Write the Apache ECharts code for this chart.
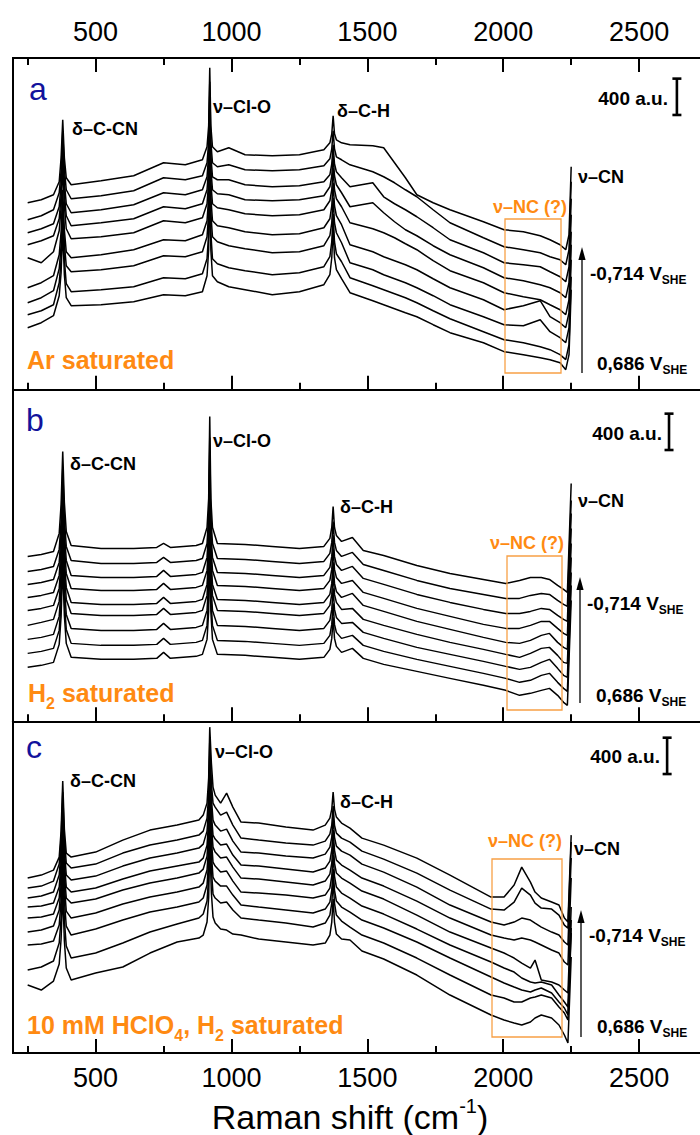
<!DOCTYPE html>
<html>
<head>
<meta charset="utf-8">
<script src="https://cdn.jsdelivr.net/npm/echarts@6/dist/echarts.min.js"></script>
<style>html,body{margin:0;padding:0;background:#fff}#chart{width:700px;height:1135px}</style>
</head>
<body>
<div id="chart"></div>
<script>
// ---------------- DATA (Raman shift in cm^-1, intensity in a.u. incl. stacking offset) ----------------
const majorTicks = [500, 1000, 1500, 2000, 2500];
const minorTicks = [250, 750, 1250, 1750, 2250];
const potentialTop = '-0,714 V';
const potentialBottom = '0,686 V';
const scaleBarValue = 400;

// Panel a : Ar saturated
const shiftA = [250, 300, 345, 366, 373, 379, 385, 392, 410, 520, 640, 750, 830, 893, 910, 916, 920, 924, 930, 948, 990, 1050, 1150, 1250, 1340, 1362, 1369, 1374, 1379, 1386, 1405, 1436, 1520, 1560, 1600, 1640, 1682, 1742, 1804, 1927, 2003, 2074, 2136, 2172, 2209, 2230, 2242, 2250];
const a1 = [2057,2090,2145,2288,2552,2970,2552,2332,2255,2299,2354,2497,2475,2530,2673,2904,3542,2904,2673,2618,2662,2585,2574,2585,2640,2717,2816,3014,2816,2750,2717,2695,2684,2662,2497,2332,2145,2057,1980,1848,1760,1738,1694,1650,1595,1540,1705,2453];
const a2 = [1870,1914,1980,2167,2409,2838,2431,2200,2101,2134,2189,2332,2310,2354,2497,2728,3388,2728,2497,2453,2475,2420,2409,2420,2464,2541,2651,2849,2651,2563,2530,2475,2398,2343,2277,2200,2123,1980,1837,1672,1573,1540,1507,1463,1430,1375,1540,2288];
const a3 = [1727,1771,1826,2013,2266,2717,2288,2046,1947,1980,2035,2167,2145,2200,2343,2585,3256,2585,2343,2310,2310,2255,2233,2244,2288,2365,2486,2695,2486,2398,2332,2233,2277,2123,2046,1980,1903,1782,1650,1507,1397,1375,1353,1298,1243,1188,1353,2101];
const a4 = [1595,1639,1694,1881,2134,2596,2156,1914,1804,1837,1881,2013,1991,2046,2200,2442,3124,2442,2200,2156,2145,2090,2079,2090,2134,2233,2354,2574,2354,2255,2167,2013,2057,1947,1848,1760,1694,1584,1485,1342,1232,1199,1155,1122,1067,1012,1177,1925];
const a5 = [1452,1397,1518,1749,2002,2464,2024,1771,1661,1683,1727,1859,1837,1892,2046,2288,2992,2288,2046,2002,1980,1936,1914,1925,1980,2079,2200,2442,2200,2101,2013,1837,1771,1727,1672,1606,1540,1419,1309,1177,1067,1023,990,935,880,825,990,1738];
const a6 = [1122,1177,1254,1485,1738,2200,1760,1518,1452,1485,1540,1650,1639,1705,1859,2123,2860,2123,1859,1804,1782,1738,1705,1716,1782,1881,2024,2277,2024,1914,1815,1595,1518,1463,1419,1375,1320,1221,1122,990,880,924,979,803,737,682,847,1595];
const a7 = [957,1012,1089,1331,1584,2035,1606,1364,1298,1320,1364,1474,1463,1518,1683,1947,2695,1947,1683,1628,1584,1551,1507,1518,1584,1694,1837,2112,1837,1727,1617,1397,1320,1265,1221,1177,1122,1034,935,803,715,704,770,638,572,517,682,1430];
const a8 = [825,869,935,1177,1430,1892,1430,1166,1078,1100,1133,1232,1221,1276,1441,1727,2530,1727,1441,1386,1342,1309,1265,1287,1353,1463,1628,1936,1628,1496,1408,1232,1144,1100,1056,1012,957,869,781,638,550,517,473,440,385,330,495,1243];
const a9 = [682,737,814,1034,1287,1760,1265,1012,924,935,968,1045,1034,1078,1254,1540,2365,1540,1254,1188,1133,1100,1045,1078,1155,1265,1452,1782,1452,1320,1221,1067,979,935,891,847,803,715,627,517,418,385,352,330,297,220,385,1100];

// Panel b : H2 saturated
const shiftB = [250, 300, 345, 366, 373, 379, 385, 392, 410, 520, 640, 725, 750, 775, 870, 893, 910, 916, 920, 924, 930, 948, 1050, 1150, 1250, 1340, 1362, 1369, 1374, 1379, 1386, 1405, 1445, 1485, 1560, 1682, 1804, 1927, 2009, 2060, 2100, 2140, 2170, 2200, 2222, 2236, 2250];
const b1 = [1815,1837,1870,2068,2387,2970,2409,2090,1936,1903,1903,1914,1958,1914,1936,1958,2134,2453,3355,2453,2134,1958,1947,1925,1903,1925,2013,2134,2365,2134,2046,1980,2024,1881,1826,1716,1628,1562,1518,1551,1584,1584,1562,1496,1452,1419,2618];
const b2 = [1650,1672,1705,1892,2200,2783,2233,1925,1771,1738,1738,1749,1804,1749,1771,1793,1958,2266,3124,2266,1958,1793,1782,1760,1738,1760,1848,1969,2200,1969,1881,1815,1859,1727,1661,1551,1463,1397,1353,1353,1386,1408,1397,1331,1287,1265,2431];
const b3 = [1507,1529,1562,1749,2057,2640,2079,1771,1606,1584,1584,1595,1661,1595,1617,1639,1804,2112,2970,2112,1804,1639,1628,1606,1584,1606,1694,1815,2046,1815,1727,1661,1705,1573,1507,1397,1309,1232,1188,1188,1210,1243,1232,1166,1122,1100,2288];
const b4 = [1364,1386,1419,1606,1914,2486,1936,1628,1463,1441,1441,1452,1518,1452,1474,1496,1661,1969,2805,1969,1661,1496,1485,1463,1441,1463,1551,1672,1903,1672,1584,1518,1551,1419,1353,1243,1155,1067,1023,1023,1056,1100,1100,1023,968,946,2123];
const b5 = [1221,1243,1276,1463,1771,2343,1782,1474,1309,1287,1287,1298,1364,1298,1320,1342,1507,1815,2651,1815,1507,1342,1331,1309,1287,1309,1397,1518,1749,1518,1430,1364,1408,1276,1210,1100,1012,924,869,858,891,946,968,869,814,792,1958];
const b6 = [1056,1089,1122,1320,1628,2200,1650,1342,1188,1166,1166,1177,1243,1177,1199,1221,1386,1694,2530,1694,1386,1221,1210,1188,1166,1188,1276,1397,1628,1397,1309,1232,1243,1122,1056,957,869,792,737,704,748,803,814,726,649,638,1804];
const b7 = [902,924,957,1155,1463,2035,1485,1177,1023,1001,1001,1012,1078,1012,1034,1056,1221,1529,2365,1529,1221,1056,1045,1023,1001,1023,1111,1232,1463,1232,1144,1078,1089,979,913,814,737,660,605,572,594,649,682,583,506,484,1639];
const b8 = [748,770,803,1001,1309,1881,1320,1012,858,836,836,847,913,847,869,891,1056,1364,2200,1364,1056,891,880,858,836,858,946,1067,1298,1067,979,913,946,836,770,682,605,528,473,429,451,506,528,429,363,330,1496];
const b9 = [594,616,649,847,1155,1727,1166,858,704,682,682,693,759,693,715,737,902,1210,2046,1210,902,737,726,704,682,704,792,913,1144,913,825,759,803,693,627,550,473,396,341,286,308,341,363,286,209,176,1331];

// Panel c : 10 mM HClO4, H2 saturated
const shiftC = [250, 300, 345, 366, 373, 379, 385, 392, 410, 500, 600, 700, 800, 880, 896, 910, 916, 920, 926, 932, 940, 960, 982, 1005, 1035, 1100, 1200, 1300, 1345, 1362, 1369, 1374, 1379, 1386, 1405, 1436, 1480, 1560, 1682, 1804, 1955, 2003, 2040, 2068, 2100, 2117, 2140, 2178, 2205, 2225, 2238, 2250];
const c1 = [1925,1958,2013,2156,2442,2992,2464,2200,2156,2211,2343,2453,2508,2563,2618,2750,3025,3586,3190,2926,2838,2750,2860,2706,2541,2530,2486,2453,2508,2585,2684,2871,2684,2596,2530,2475,2365,2288,2145,1958,1716,1716,1848,2046,1881,1771,1705,1661,1628,1485,1441,2398];
const c2 = [1815,1837,1892,2079,2354,2871,2354,2090,2035,2079,2200,2288,2343,2398,2442,2585,2838,3432,2970,2750,2706,2618,2651,2508,2365,2343,2310,2288,2332,2409,2508,2717,2508,2420,2365,2321,2222,2134,1980,1793,1584,1573,1661,1815,1738,1650,1595,1584,1518,1408,1375,2321];
const c3 = [1705,1727,1771,1958,2233,2750,2233,1958,1903,1947,2057,2145,2200,2255,2299,2442,2695,3289,2805,2563,2508,2442,2464,2332,2211,2200,2167,2145,2189,2266,2376,2596,2376,2277,2222,2178,2079,1991,1826,1628,1441,1408,1441,1485,1463,1430,1386,1331,1298,1221,1188,2145];
const c4 = [1606,1617,1650,1826,2101,2618,2101,1826,1771,1815,1914,2002,2057,2101,2145,2288,2552,3157,2640,2398,2354,2288,2299,2178,2068,2057,2024,1991,2035,2112,2233,2453,2233,2123,2068,2013,1925,1837,1672,1485,1298,1265,1243,1265,1243,1221,1188,1133,1100,1001,968,1925];
const c5 = [1485,1496,1529,1705,1980,2497,1980,1705,1650,1694,1793,1870,1925,1980,2024,2167,2431,3036,2508,2266,2211,2145,2156,2046,1925,1914,1881,1848,1892,1969,2090,2321,2090,1980,1925,1870,1782,1694,1518,1331,1155,1100,1045,990,935,1023,803,781,748,693,660,1606];
const c6 = [1331,1353,1397,1573,1848,2365,1848,1562,1485,1540,1639,1716,1771,1826,1870,2013,2277,2882,2354,2101,2057,1991,2002,1892,1771,1760,1738,1705,1738,1815,1947,2178,1947,1826,1760,1705,1617,1529,1364,1188,1001,935,891,825,781,770,781,748,638,561,506,1463];
const c7 = [1188,1199,1232,1408,1683,2200,1683,1397,1298,1364,1463,1551,1606,1661,1705,1848,2112,2717,2189,1936,1892,1837,1837,1738,1628,1606,1573,1540,1584,1661,1793,2024,1793,1672,1606,1551,1463,1375,1221,1045,836,770,726,693,671,693,715,660,561,495,418,1375];
const c8 = [913,946,1012,1210,1485,2002,1463,1177,1045,1100,1210,1331,1419,1485,1529,1672,1936,2563,2024,1749,1705,1650,1661,1573,1485,1463,1430,1386,1430,1518,1650,1892,1650,1518,1452,1386,1298,1210,1045,858,638,605,561,561,605,616,638,605,506,440,363,1320];
const c9 = [748,693,792,979,1254,1771,1232,935,803,880,946,1100,1221,1265,1298,1441,1705,2332,1760,1496,1430,1364,1353,1309,1298,1254,1221,1188,1210,1298,1441,1694,1441,1309,1254,1243,1122,1034,858,638,418,363,330,308,341,385,418,385,308,198,110,1056];

// ---------------- CHART ----------------
const FONT = "'Liberation Sans', Arial, Helvetica, sans-serif";
const ORANGE = '#ff8a12';
const BOX_ORANGE = '#f7a046';
const BLUE = '#12129c';
const X_MIN = 196, X_MAX = 2724, Y_MAX = 3650;
const gridTops = [58, 389.67, 721.33];
const gridH = 331.67;

const panels = [
  {xs: shiftA, traces: [a1, a2, a3, a4, a5, a6, a7, a8, a9]},
  {xs: shiftB, traces: [b1, b2, b3, b4, b5, b6, b7, b8, b9]},
  {xs: shiftC, traces: [c1, c2, c3, c4, c5, c6, c7, c8, c9]}
];
const scaleBarX = [2639, 2610, 2603];
const scaleBarBase = [3023, 2986, 3070];

function xAxisDef(grid, pos, ticks, len, withLabels, labelMargin) {
  return {
    type: 'value', gridIndex: grid, position: pos, min: X_MIN, max: X_MAX, offset: 0,
    axisLine: {show: true, onZero: false, lineStyle: {color: '#000', width: 2}},
    axisTick: {show: true, inside: true, length: len, customValues: ticks, lineStyle: {color: '#000', width: 2}},
    axisLabel: withLabels ? {show: true, customValues: majorTicks, fontSize: 27, fontFamily: FONT, color: '#000',
      margin: labelMargin, formatter: v => String(v)} : {show: false},
    splitLine: {show: false}
  };
}

const xAxes = [
  xAxisDef(0, 'top', majorTicks, 14, true, 13),
  xAxisDef(0, 'top', minorTicks, 7, false),
  xAxisDef(0, 'bottom', majorTicks, 14, false),
  xAxisDef(0, 'bottom', minorTicks, 7, false),
  xAxisDef(1, 'bottom', majorTicks, 14, false),
  xAxisDef(1, 'bottom', minorTicks, 7, false),
  xAxisDef(2, 'bottom', majorTicks, 14, true, 11),
  xAxisDef(2, 'bottom', minorTicks, 7, false)
];
const dataXAxis = [2, 4, 6];

const yAxes = [0, 1, 2].map(g => ({
  type: 'value', gridIndex: g, min: 0, max: Y_MAX, position: 'left',
  axisLine: {show: true, lineStyle: {color: '#000', width: 2}},
  axisTick: {show: false}, axisLabel: {show: false}, splitLine: {show: false}
}));

const series = [];
panels.forEach((p, g) => {
  p.traces.forEach(tr => {
    series.push({
      type: 'line', xAxisIndex: dataXAxis[g], yAxisIndex: g,
      data: p.xs.map((x, i) => [x, tr[i]]),
      symbol: 'none', showSymbol: false, silent: true,
      lineStyle: {color: '#000', width: 1.5}, z: 2
    });
  });
  series.push({
    type: 'line', xAxisIndex: dataXAxis[g], yAxisIndex: g,
    data: [[scaleBarX[g], scaleBarBase[g]], [scaleBarX[g], scaleBarBase[g] + scaleBarValue]],
    symbol: 'rect', symbolSize: [9, 2.6], showSymbol: true, silent: true,
    itemStyle: {color: '#000'}, lineStyle: {color: '#000', width: 2.6}, z: 3
  });
});

// ---------- annotations ----------
const mctx = document.createElement('canvas').getContext('2d');
function tw(t, size, weight) { mctx.font = weight + ' ' + size + 'px ' + FONT; return mctx.measureText(t).width; }
function txt(x, y, text, size, weight, color, align) {
  return {type: 'text', x: x, y: y, silent: true, z: 10,
    style: {text: text, fill: color, font: weight + ' ' + size + 'px ' + FONT,
      align: align || 'left', textAlign: align || 'left', verticalAlign: 'middle', textVerticalAlign: 'middle'}};
}
function run(x, y, parts, size, subSize, subDy, weight, color, align) {
  const items = parts.map(p => {
    const k = p[1] || 'n';
    const s = k === 'n' ? size : subSize;
    return {t: p[0], k: k, s: s, w: tw(p[0], s, weight)};
  });
  const total = items.reduce((a, b) => a + b.w, 0);
  let cx = align === 'center' ? x - total / 2 : (align === 'right' ? x - total : x);
  return items.map(it => {
    const dy = it.k === 'sub' ? subDy : (it.k === 'sup' ? -subDy : 0);
    const el = txt(cx, y + dy, it.t, it.s, weight, color, 'left');
    cx += it.w;
    return el;
  });
}
function arrow(x, yBottom, yTip) {
  return [
    {type: 'line', silent: true, z: 10, shape: {x1: x, y1: yBottom, x2: x, y2: yTip + 10}, style: {stroke: '#000', lineWidth: 1.3}},
    {type: 'polygon', silent: true, z: 10, shape: {points: [[x, yTip], [x - 3.6, yTip + 13], [x + 3.6, yTip + 13]]}, style: {fill: '#000'}}
  ];
}
function box(x, y, w, h) {
  return {type: 'rect', silent: true, z: 9, shape: {x: x, y: y, width: w, height: h}, style: {fill: 'none', stroke: BOX_ORANGE, lineWidth: 1.3}};
}

const ann = [
  {letter: 'a', lp: [29, 88.5], cc: [72, 129], clo: [213, 107], ch: [337, 111], cn: [578, 177], nc: [493, 207],
   au: [668, 98], box: [505, 219, 56, 154], arr: [582, 373, 247], vt: [590, 273], vb: [597, 363]},
  {letter: 'b', lp: [26, 420], cc: [70, 464], clo: [213, 441], ch: [340, 507], cn: [578, 501], nc: [490, 543],
   au: [662, 433], box: [507, 556, 55, 154], arr: [580, 703, 577], vt: [587, 603], vb: [596, 695]},
  {letter: 'c', lp: [26, 747], cc: [70, 781], clo: [215, 752], ch: [340, 802], cn: [574, 849], nc: [488, 841],
   au: [660, 756], box: [492, 859, 70, 178], arr: [581, 1037, 910], vt: [589, 935], vb: [597, 1026]}
];

let graphics = [];
ann.forEach(a => {
  graphics.push(txt(a.lp[0], a.lp[1], a.letter, 32, 'normal', BLUE));
  graphics.push(txt(a.cc[0], a.cc[1], 'δ–C-CN', 18, 'bold', '#000'));
  graphics.push(txt(a.clo[0], a.clo[1], 'ν–Cl-O', 18, 'bold', '#000'));
  graphics.push(txt(a.ch[0], a.ch[1], 'δ–C-H', 18, 'bold', '#000'));
  graphics.push(txt(a.cn[0], a.cn[1], 'ν–CN', 18, 'bold', '#000'));
  graphics.push(txt(a.nc[0], a.nc[1], 'ν–NC (?)', 18, 'bold', ORANGE));
  graphics.push(txt(a.au[0], a.au[1], scaleBarValue + ' a.u.', 19, 'bold', '#000', 'right'));
  graphics.push(box(a.box[0], a.box[1], a.box[2], a.box[3]));
  graphics = graphics.concat(arrow(a.arr[0], a.arr[1], a.arr[2]));
  graphics = graphics.concat(run(a.vt[0], a.vt[1], [[potentialTop], ['SHE', 'sub']], 19, 12, 7, 'bold', '#000'));
  graphics = graphics.concat(run(a.vb[0], a.vb[1], [[potentialBottom], ['SHE', 'sub']], 19, 12, 7, 'bold', '#000'));
});
graphics.push(txt(27, 360, 'Ar saturated', 25, 'bold', ORANGE));
graphics = graphics.concat(run(28, 693, [['H'], ['2', 'sub'], [' saturated']], 25, 16, 10, 'bold', ORANGE));
graphics = graphics.concat(run(27, 1025, [['10 mM HClO'], ['4', 'sub'], [', H'], ['2', 'sub'], [' saturated']], 25, 16, 10, 'bold', ORANGE));
graphics = graphics.concat(run(350, 1117, [['Raman shift (cm'], ['-1', 'sup'], [')']], 34, 20, 11, 'normal', '#000', 'center'));

const chart = echarts.init(document.getElementById('chart'), null, {renderer: 'svg', width: 700, height: 1135});
chart.setOption({
  animation: false,
  backgroundColor: '#fff',
  grid: gridTops.map(t => ({left: 13, right: 0, top: t, height: gridH, containLabel: false})),
  xAxis: xAxes,
  yAxis: yAxes,
  series: series,
  graphic: {elements: graphics}
});
</script>
</body>
</html>
